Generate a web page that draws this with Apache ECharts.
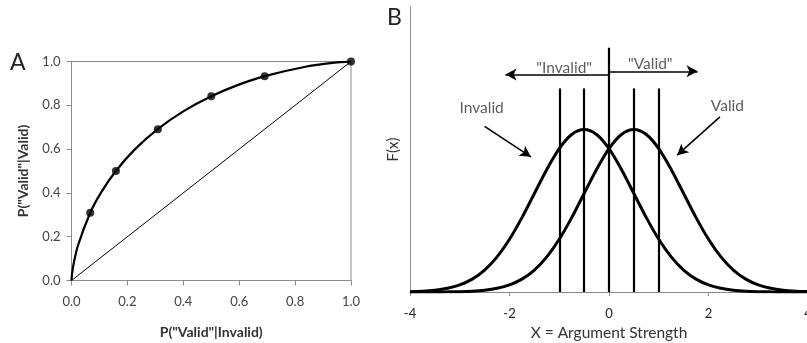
<!DOCTYPE html>
<html>
<head>
<meta charset="utf-8">
<script src="https://cdn.jsdelivr.net/npm/echarts@6/dist/echarts.min.js"></script>
<style>html,body{margin:0;padding:0;background:#fff}#c{width:807px;height:343px}</style>
</head>
<body>
<div id="c"></div>
<script>
// ---- Panel A: ROC curve ----
const rocCurveFA = [0, 0.0002, 0.0013, 0.0062, 0.0228, 0.0668, 0.1056, 0.1587, 0.2266, 0.3085, 0.4013, 0.5, 0.5987, 0.6915, 0.8413, 0.9332, 0.9938, 1];
const rocCurveHR = [0, 0.0062, 0.0228, 0.0668, 0.1587, 0.3085, 0.4013, 0.5, 0.5987, 0.6915, 0.7734, 0.8413, 0.8944, 0.9332, 0.9772, 0.9938, 0.9998, 1];
const rocPointsFA = [0.067, 0.159, 0.309, 0.5, 0.691, 1.0];
const rocPointsHR = [0.309, 0.5, 0.691, 0.841, 0.933, 1.0];
const chanceLine = [[0, 0], [1, 1]];
const aTicks = ['0.0', '0.2', '0.4', '0.6', '0.8', '1.0'];

// ---- Panel B: distributions ----
const xs = [-4, -3.75, -3.5, -3.25, -3, -2.75, -2.5, -2.25, -2, -1.75, -1.5, -1.25, -1, -0.75, -0.5, -0.25, 0, 0.25, 0.5, 0.75, 1, 1.25, 1.5, 1.75, 2, 2.25, 2.5, 2.75, 3, 3.25, 3.5, 3.75, 4];
const invalidF = [0.0009, 0.0020, 0.0044, 0.0091, 0.0175, 0.0317, 0.0540, 0.0863, 0.1295, 0.1826, 0.2420, 0.3011, 0.3521, 0.3867, 0.3989, 0.3867, 0.3521, 0.3011, 0.2420, 0.1826, 0.1295, 0.0863, 0.0540, 0.0317, 0.0175, 0.0091, 0.0044, 0.0020, 0.0009, 0.0004, 0.0001, 0.0001, 0.0000];
const validF = [0.0000, 0.0001, 0.0001, 0.0004, 0.0009, 0.0020, 0.0044, 0.0091, 0.0175, 0.0317, 0.0540, 0.0863, 0.1295, 0.1826, 0.2420, 0.3011, 0.3521, 0.3867, 0.3989, 0.3867, 0.3521, 0.3011, 0.2420, 0.1826, 0.1295, 0.0863, 0.0540, 0.0317, 0.0175, 0.0091, 0.0044, 0.0020, 0.0009];
const criteria = [-1, -0.5, 0.5, 1];
const criterionHeight = 0.5;
const centerLine = [0, 0.6];
const bTicks = ['-4', '-2', '0', '2', '4'];
// arrows: [x1, y1, x2, y2]
const arrowInvalidResp = [0, 0.534, -2.08, 0.534];
const arrowValidResp = [0, 0.542, 1.78, 0.542];
const arrowInvalidDist = [-2.5, 0.407, -1.57, 0.332];
const arrowValidDist = [2.23, 0.43, 1.37, 0.336];
const annotations = [
  [-0.9, 0.55, '"Invalid"'],
  [0.83, 0.56, '"Valid"'],
  [-2.56, 0.453, 'Invalid'],
  [2.38, 0.458, 'Valid']
];

const FONT = 'Lato, "Open Sans", sans-serif';
const chart = echarts.init(document.getElementById('c'), null, {renderer: 'canvas'});

function seg(a) { return [{coord: [a[0], a[1]]}, {coord: [a[2], a[3]]}]; }

const option = {
  animation: false,
  textStyle: {fontFamily: FONT},
  grid: [
    {left: 71.5, top: 61.5, width: 279.5, height: 219, outerBoundsMode: 'none', containLabel: false,
      show: true, borderColor: '#8a8a8a', borderWidth: 1, backgroundColor: 'transparent'},
    {left: 410, top: 7, width: 398, height: 285, outerBoundsMode: 'none', containLabel: false}
  ],
  graphic: [
    {type: 'text', left: 10, top: 51, style: {text: 'A', font: '23px ' + FONT, fill: '#222'}},
    {type: 'text', left: 387, top: 6, style: {text: 'B', font: '23px ' + FONT, fill: '#222'}}
  ],
  xAxis: [
    {gridIndex: 0, type: 'value', min: 0, max: 1, interval: 0.2,
      name: 'P("Valid"|Invalid)', nameLocation: 'middle', nameGap: 45,
      nameTextStyle: {fontSize: 14, fontWeight: 'bold', color: '#333', fontFamily: FONT},
      axisLine: {onZero: false, lineStyle: {color: '#8a8a8a'}},
      axisTick: {show: true, length: 5, lineStyle: {color: '#8a8a8a'}},
      splitLine: {show: false},
      axisLabel: {fontSize: 13, color: '#444', margin: 15, formatter: (v) => aTicks[Math.round(v / 0.2)]}
    },
    {gridIndex: 1, type: 'value', min: -4, max: 4, interval: 2,
      name: 'X = Argument Strength', nameLocation: 'middle', nameGap: 30,
      nameTextStyle: {fontSize: 15.5, color: '#333', fontFamily: FONT},
      axisLine: {onZero: false, lineStyle: {color: '#8a8a8a'}},
      axisTick: {show: true, length: 4, lineStyle: {color: '#8a8a8a'}},
      splitLine: {show: false},
      axisLabel: {fontSize: 13, color: '#222', margin: 15, formatter: (v) => bTicks[Math.round((v + 4) / 2)]}
    }
  ],
  yAxis: [
    {gridIndex: 0, type: 'value', min: 0, max: 1, interval: 0.2,
      name: 'P("Valid"|Valid)', nameLocation: 'middle', nameGap: 41,
      nameTextStyle: {fontSize: 14, fontWeight: 'bold', color: '#333', fontFamily: FONT},
      axisLine: {show: true, onZero: false, lineStyle: {color: '#8a8a8a'}},
      axisTick: {show: true, length: 5, lineStyle: {color: '#8a8a8a'}},
      splitLine: {show: false},
      axisLabel: {fontSize: 13, color: '#444', margin: 11, formatter: (v) => aTicks[Math.round(v / 0.2)]}
    },
    {gridIndex: 1, type: 'value', min: 0, max: 0.7,
      name: 'F(x)', nameLocation: 'middle', nameGap: 9,
      nameTextStyle: {fontSize: 15, color: '#333', fontFamily: FONT},
      axisLine: {show: true, onZero: false, lineStyle: {color: '#8a8a8a'}},
      axisTick: {show: false},
      axisLabel: {show: false},
      splitLine: {show: false}
    }
  ],
  series: [
    {type: 'line', xAxisIndex: 0, yAxisIndex: 0, data: chanceLine, symbol: 'none',
      lineStyle: {color: '#000', width: 1}},
    {type: 'line', xAxisIndex: 0, yAxisIndex: 0, data: rocCurveFA.map((v, i) => [v, rocCurveHR[i]]),
      symbol: 'none', smooth: 0.3, lineStyle: {color: '#000', width: 2.2}},
    {type: 'scatter', xAxisIndex: 0, yAxisIndex: 0, data: rocPointsFA.map((v, i) => [v, rocPointsHR[i]]),
      symbol: 'circle', symbolSize: 8, itemStyle: {color: '#000'}},
    {type: 'line', xAxisIndex: 1, yAxisIndex: 1, data: xs.map((x, i) => [x, invalidF[i]]),
      symbol: 'none', smooth: 0.3, lineStyle: {color: '#000', width: 3}},
    {type: 'line', xAxisIndex: 1, yAxisIndex: 1, data: xs.map((x, i) => [x, validF[i]]),
      symbol: 'none', smooth: 0.3, lineStyle: {color: '#000', width: 3},
      markLine: {
        silent: true, symbol: ['none', 'none'], label: {show: false},
        lineStyle: {color: '#000', width: 2.2, type: 'solid'},
        data: criteria.map(c => [{coord: [c, 0]}, {coord: [c, criterionHeight]}])
          .concat([[{coord: [centerLine[0], 0]}, {coord: [centerLine[0], centerLine[1]]}]])
      }
    },
    {type: 'line', xAxisIndex: 1, yAxisIndex: 1, data: [], symbol: 'none',
      markLine: {
        silent: true, symbol: ['none', 'arrow'], symbolSize: [9, 11], label: {show: false},
        lineStyle: {color: '#000', width: 1.6, type: 'solid'},
        data: [seg(arrowInvalidResp), seg(arrowValidResp), seg(arrowInvalidDist), seg(arrowValidDist)]
      }
    },
    {type: 'scatter', xAxisIndex: 1, yAxisIndex: 1, data: annotations, symbolSize: 0,
      label: {show: true, position: 'inside', formatter: (p) => p.data[2], fontSize: 15.5, color: '#333', fontFamily: FONT}}
  ]
};
chart.setOption(option);
</script>
</body>
</html>
